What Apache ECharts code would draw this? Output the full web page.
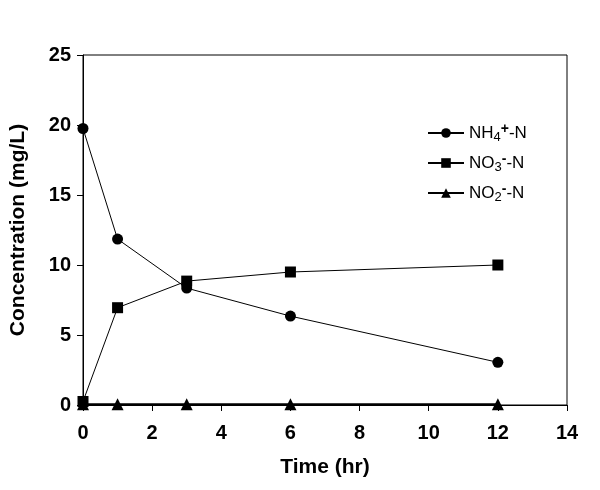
<!DOCTYPE html>
<html>
<head>
<meta charset="utf-8">
<script src="https://cdn.jsdelivr.net/npm/echarts@6/dist/echarts.min.js"></script>
<style>
  html, body { margin: 0; padding: 0; background: #fff; }
  #chart { width: 600px; height: 490px; }
</style>
</head>
<body>
<div id="chart"></div>
<script>
// sampling times (hr)
const times = [0, 1, 3, 6, 12]
// concentrations (mg/L)
const nh4 = [19.75, 11.85, 8.35, 6.35, 3.05]
const no3 = [0.25, 6.95, 8.85, 9.5, 10.0]
const no2 = [0.05, 0.05, 0.05, 0.05, 0.05]

const pairs = (ys) => times.map((x, i) => [x, ys[i]])

// legend labels with sub/superscripts
const legendText = {
  'NH4+-N': '{n|NH}{sub|4}{sup|+}{n|-N}',
  'NO3--N': '{n|NO}{sub|3}{sup|-}{n|-N}',
  'NO2--N': '{n|NO}{sub|2}{sup|-}{n|-N}'
}

const chart = echarts.init(document.getElementById('chart'))

const baseSeries = {
  type: 'line',
  color: '#000',
  lineStyle: { color: '#000', width: 1 },
  itemStyle: { color: '#000' },
  animation: false
}

const option = {
  backgroundColor: '#fff',
  grid: {
    left: 83,
    right: 33,
    top: 55,
    bottom: 85,
    outerBoundsMode: 'none',
    show: true,
    borderColor: '#000',
    borderWidth: 1
  },
  legend: {
    orient: 'vertical',
    left: 422,
    top: 117,
    itemWidth: 36,
    itemHeight: 12,
    itemGap: 8,
    data: ['NH4+-N', 'NO3--N', 'NO2--N'],
    formatter: (name) => legendText[name],
    textStyle: {
      color: '#000',
      rich: {
        n: { fontFamily: 'Liberation Sans', fontSize: 17, lineHeight: 22, color: '#000' },
        sub: { fontFamily: 'Liberation Sans', fontSize: 13, lineHeight: 12, verticalAlign: 'bottom', color: '#000' },
        sup: { fontFamily: 'Liberation Sans', fontSize: 14, fontWeight: 'bold', lineHeight: 12, verticalAlign: 'top', color: '#000' }
      }
    }
  },
  xAxis: {
    type: 'value',
    min: 0,
    max: 14,
    interval: 2,
    name: 'Time (hr)',
    nameLocation: 'middle',
    nameGap: 52,
    nameTextStyle: { fontFamily: 'Liberation Sans', fontWeight: 'bold', fontSize: 21, color: '#000' },
    axisLine: { lineStyle: { color: '#000', width: 1 } },
    axisTick: { show: true, length: 6, lineStyle: { color: '#000' } },
    axisLabel: { fontFamily: 'Liberation Sans', fontWeight: 'bold', fontSize: 20, color: '#000', margin: 18 },
    splitLine: { show: false }
  },
  yAxis: {
    type: 'value',
    min: 0,
    max: 25,
    interval: 5,
    name: 'Concentration (mg/L)',
    nameLocation: 'middle',
    nameGap: 54,
    nameTextStyle: { fontFamily: 'Liberation Sans', fontWeight: 'bold', fontSize: 21, color: '#000' },
    axisLine: { show: true, lineStyle: { color: '#000', width: 1 } },
    axisTick: { show: true, length: 6, lineStyle: { color: '#000' } },
    axisLabel: { fontFamily: 'Liberation Sans', fontWeight: 'bold', fontSize: 20, color: '#000', margin: 12 },
    splitLine: { show: false }
  },
  series: [
    Object.assign({}, baseSeries, {
      name: 'NH4+-N',
      data: pairs(nh4),
      symbol: 'circle',
      symbolSize: 11
    }),
    Object.assign({}, baseSeries, {
      name: 'NO3--N',
      data: pairs(no3),
      symbol: 'rect',
      symbolSize: 11
    }),
    Object.assign({}, baseSeries, {
      name: 'NO2--N',
      data: pairs(no2),
      symbol: 'triangle',
      symbolSize: 12,
      lineStyle: { color: '#000', width: 2 }
    })
  ]
}

chart.setOption(option)
</script>
</body>
</html>
